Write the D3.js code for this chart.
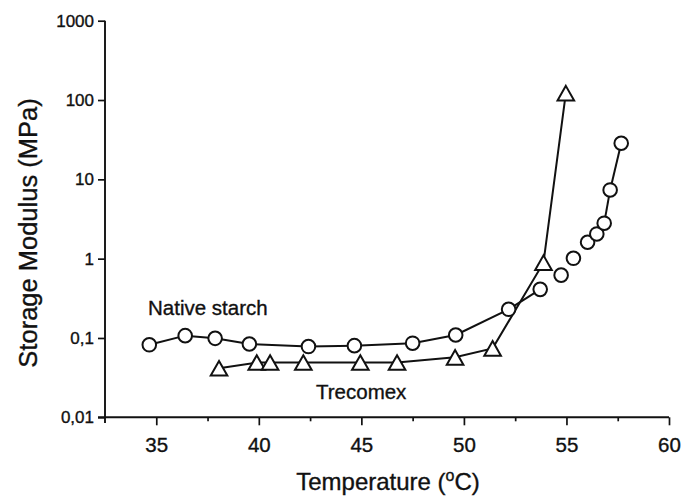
<!DOCTYPE html>
<html lang="en">
<head>
<meta charset="UTF-8">
<title>Storage modulus vs temperature</title>
<script src="https://cdn.jsdelivr.net/npm/d3@7"></script>
<style>
  body { margin: 0; background: #fff; }
  svg { display: block; font-family: "Liberation Sans", Arial, Helvetica, sans-serif; }
  svg text { stroke: #111; stroke-width: 0.35; }
  .axis path, .axis line { stroke: #111; stroke-width: 1.7; }
  .axis text { fill: #111; }
</style>
</head>
<body>
<script>
// data
var nativeTemp = [34.66, 36.41, 37.87, 39.54, 42.42, 44.66, 47.5, 49.6, 52.18, 53.72, 54.74, 55.34, 56.03, 56.48, 56.84, 57.13, 57.67];
var nativeMod  = [0.082, 0.107, 0.099, 0.084, 0.078, 0.080, 0.086, 0.109, 0.23, 0.41, 0.62, 1.01, 1.61, 2.05, 2.8, 7.35, 28.5];
// 1 = a line joins this point to the next one
var nativeJoin = [1, 1, 1, 1, 1, 1, 1, 1, 1, 0, 0, 0, 0, 0, 1, 1];

var trecTemp = [38.06, 39.9, 40.55, 42.17, 44.95, 46.74, 49.57, 51.4, 53.88, 54.97];
var trecMod  = [0.0415, 0.049, 0.049, 0.049, 0.049, 0.049, 0.057, 0.074, 0.89, 122];

var xMajor = [35, 40, 45, 50, 55, 60];
var xMinor = [37.5, 42.5, 47.5, 52.5, 57.5];
var yTicks = [0.01, 0.1, 1, 10, 100, 1000];
var yTickLabels = ["0,01", "0,1", "1", "10", "100", "1000"];

var W = 682, H = 496;
var svg = d3.select("body").append("svg").attr("width", W).attr("height", H);

var x = d3.scaleLinear().domain([32.5, 60]).range([105, 669]);
var y = d3.scaleLog().domain([0.01, 1000]).range([417.3, 20.7]);

// axes
var gx = svg.append("g").attr("class", "axis").attr("transform", "translate(0,417.3)")
  .call(d3.axisBottom(x).tickValues(xMajor).tickSize(8).tickSizeOuter(0).tickPadding(8));
gx.select(".domain").remove();
gx.selectAll("text").attr("font-size", 20.5).attr("font-family", null).attr("dy", "0.9em");
svg.append("g").attr("class", "axis").attr("transform", "translate(0,417.3)")
  .call(d3.axisBottom(x).tickValues(xMinor).tickSize(4).tickFormat(""))
  .select(".domain").remove();
svg.append("line").attr("x1", 98).attr("x2", x(60)).attr("y1", 417.3).attr("y2", 417.3)
  .attr("stroke", "#111").attr("stroke-width", 1.9);

var gy = svg.append("g").attr("class", "axis").attr("transform", "translate(105,0)")
  .call(d3.axisLeft(y).tickValues(yTicks).tickSize(7).tickPadding(4)
    .tickFormat(function(d, i) { return yTickLabels[i]; }));
gy.select(".domain").remove();
gy.selectAll("text").attr("font-size", 17).attr("font-family", null);
svg.append("line").attr("x1", 105).attr("x2", 105).attr("y1", y(1000)).attr("y2", 423)
  .attr("stroke", "#111").attr("stroke-width", 1.9);

// axis titles
svg.append("text").attr("x", 388).attr("y", 490).attr("text-anchor", "middle")
  .attr("font-size", 24).attr("fill", "#111")
  .call(function(t) {
    t.append("tspan").text("Temperature (");
    t.append("tspan").attr("font-size", 16).attr("dy", -9).text("o");
    t.append("tspan").attr("dy", 9).text("C)");
  });
svg.append("text").attr("transform", "translate(37,233) rotate(-90)")
  .attr("text-anchor", "middle").attr("font-size", 25.5).attr("fill", "#111")
  .text("Storage Modulus (MPa)");

// lines
var natPts = nativeTemp.map(function(t, i) { return [t, nativeMod[i]]; });
var trecPts = trecTemp.map(function(t, i) { return [t, trecMod[i]]; });
var line = d3.line().x(function(d) { return x(d[0]); }).y(function(d) { return y(d[1]); });

var natSegs = [];
nativeJoin.forEach(function(j, i) { if (j) natSegs.push([natPts[i], natPts[i + 1]]); });
svg.selectAll(".nseg").data(natSegs).enter().append("path").attr("class", "nseg")
  .attr("d", line).attr("fill", "none").attr("stroke", "#111").attr("stroke-width", 2);
svg.append("path").datum(trecPts).attr("d", line)
  .attr("fill", "none").attr("stroke", "#111").attr("stroke-width", 2);

// markers
svg.selectAll(".tri").data(trecPts).enter().append("path").attr("class", "tri")
  .attr("transform", function(d) { return "translate(" + x(d[0]) + "," + y(d[1]) + ")"; })
  .attr("d", "M0,-7.3L8.3,7.3L-8.3,7.3Z")
  .attr("fill", "#fff").attr("stroke", "#111").attr("stroke-width", 2).attr("stroke-linejoin", "miter");
svg.selectAll(".circ").data(natPts).enter().append("circle").attr("class", "circ")
  .attr("cx", function(d) { return x(d[0]); }).attr("cy", function(d) { return y(d[1]); })
  .attr("r", 6.8).attr("fill", "#fff").attr("stroke", "#111").attr("stroke-width", 2);

// series labels
svg.append("text").attr("x", 148).attr("y", 315).attr("font-size", 20.5).attr("fill", "#111").text("Native starch");
svg.append("text").attr("x", 316).attr("y", 399).attr("font-size", 20.5).attr("fill", "#111").text("Trecomex");
</script>
</body>
</html>
